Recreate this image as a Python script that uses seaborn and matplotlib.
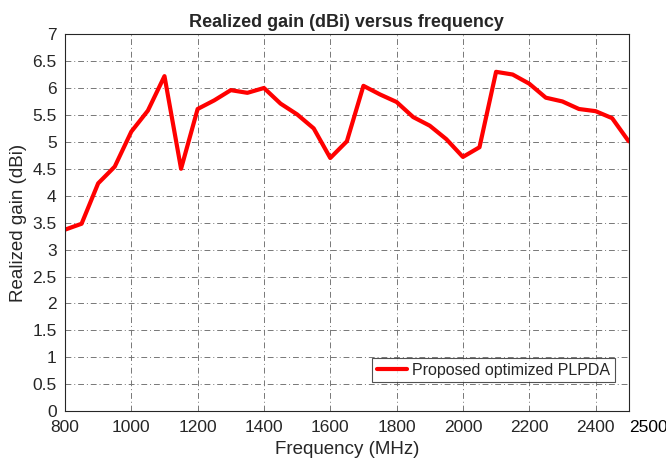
import matplotlib
matplotlib.use("Agg")
import matplotlib.pyplot as plt
import seaborn as sns
import pandas as pd
import numpy as np

freq = [800, 850, 900, 950, 1000, 1050, 1100, 1150, 1200, 1250, 1300, 1350, 1400,
        1450, 1500, 1550, 1600, 1650, 1700, 1750, 1800, 1850, 1900, 1950, 2000,
        2050, 2100, 2150, 2200, 2250, 2300, 2350, 2400, 2450, 2500]
gain = [3.37, 3.48, 4.23, 4.54, 5.19, 5.58, 6.22, 4.50, 5.61, 5.77, 5.96, 5.91, 6.00,
        5.71, 5.51, 5.25, 4.70, 5.01, 6.04, 5.88, 5.74, 5.46, 5.30, 5.05, 4.72,
        4.90, 6.30, 6.25, 6.08, 5.82, 5.75, 5.61, 5.57, 5.44, 5.01]
xticks = [800, 1000, 1200, 1400, 1600, 1800, 2000, 2200, 2400]
yticks = [0, 0.5, 1, 1.5, 2, 2.5, 3, 3.5, 4, 4.5, 5, 5.5, 6, 6.5, 7]
ytick_labels = ["0", "0.5", "1", "1.5", "2", "2.5", "3", "3.5", "4", "4.5", "5", "5.5", "6", "6.5", "7"]
series_name = "Proposed optimized PLPDA"

sns.set_style("white")
plt.rcParams['font.family'] = ['Liberation Sans', 'DejaVu Sans']

df = pd.DataFrame({"freq": freq, "gain": gain, "series": series_name})

fig = plt.figure(figsize=(6.66, 4.61), dpi=100)
ax = fig.add_axes([0.0976, 0.108, 0.8464, 0.818])
sns.lineplot(data=df, x="freq", y="gain", color="#ff0000", linewidth=3,
             label=series_name, ax=ax)

ax.set_xlim(800, 2500)
ax.set_ylim(0, 7)
ax.set_xticks(xticks)
ax.set_yticks(yticks)
ax.set_yticklabels(ytick_labels)
ax.tick_params(axis='both', labelsize=12.5, colors="#262626", length=0, pad=6)
ax.annotate("2500", xy=(2500, 0), xycoords=("data", "axes fraction"),
            xytext=(0, -6), textcoords="offset points",
            fontsize=12.5, color="black", ha="left", va="top")
ax.grid(True, color="#777777", linestyle=(0, (6, 3, 1, 3)), linewidth=0.7)
for s in ax.spines.values():
    s.set_color("#262626")
    s.set_linewidth(0.8)
    s.set_visible(True)

ax.set_xlabel("Frequency (MHz)", fontsize=13.5, color="#262626", labelpad=5)
ax.set_ylabel("Realized gain (dBi)", fontsize=13.5, color="#262626", labelpad=4)
ax.set_title("Realized gain (dBi) versus frequency", fontsize=13, fontweight="bold", pad=5)

leg = ax.legend(loc="lower right", fontsize=11.5, frameon=True, fancybox=False,
                handlelength=1.9, borderpad=0.3, handletextpad=0.3,
                bbox_to_anchor=(0.99, 0.055))
leg.get_frame().set_edgecolor("#262626")
leg.get_frame().set_linewidth(0.8)

fig.savefig("out.png", dpi=100)
